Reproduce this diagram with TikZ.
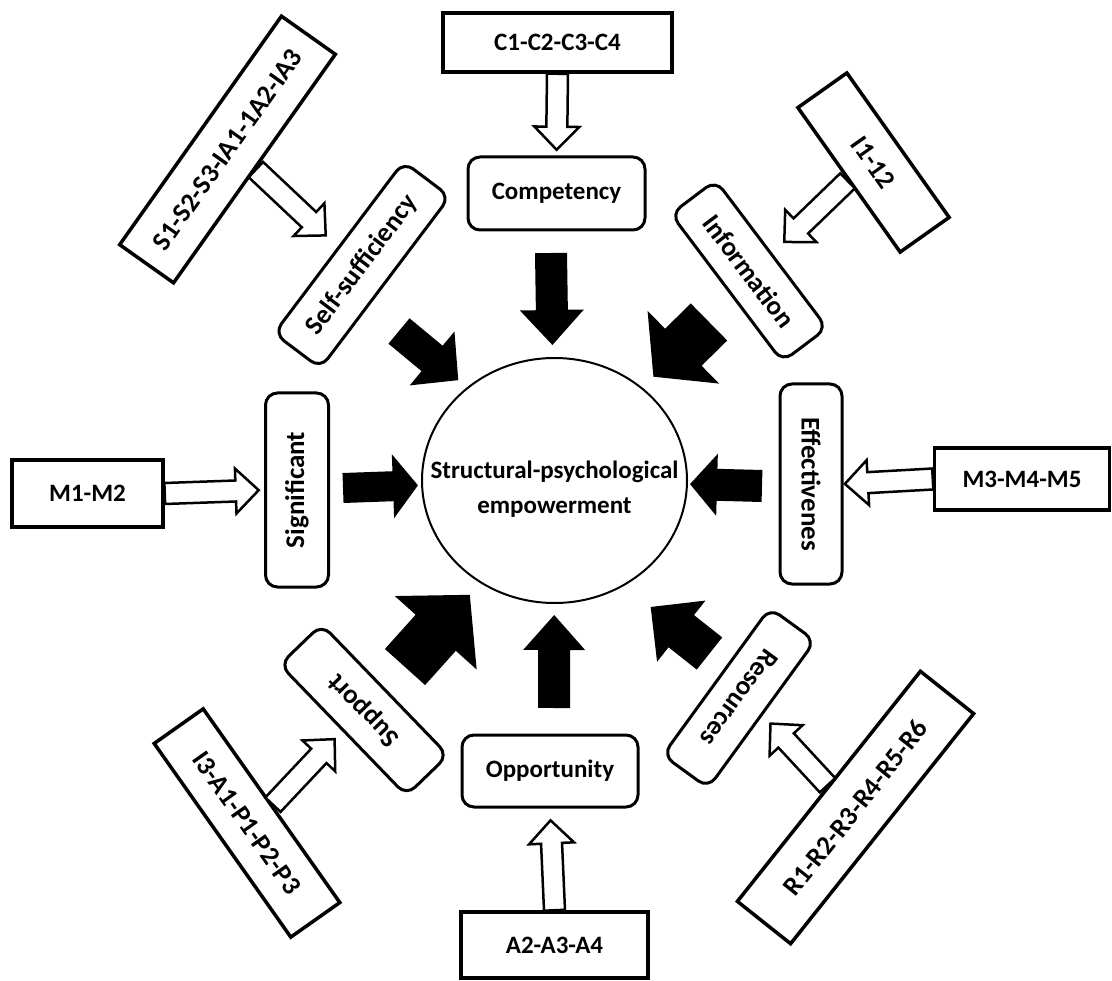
\documentclass[tikz,border=0pt]{standalone}
\usepackage{fontspec}
\setmainfont{Carlito}
\usetikzlibrary{calc,shapes.geometric}
\begin{document}
\begin{tikzpicture}[x=1pt,y=-1pt]
\tikzstyle{every node}=[font=\fontsize{25}{35}\selectfont\bfseries,inner sep=1pt]
\tikzstyle{dim}=[draw,line width=3pt,rounded corners=12pt]
\tikzstyle{item}=[draw,line width=3.5pt]
\tikzstyle{hollow}=[draw,fill=white,line width=2.5pt,line join=miter]
\useasboundingbox (0,0) rectangle (1112,981);
\path (554.5,480.5) node[draw,ellipse,line width=2pt,minimum width=265pt,minimum height=245pt] (emp) {};
\path (emp)+(0,8.5) node[align=center] (emptxt) {Structural-psychological\\empowerment};
\foreach \n/\x/\y/\r/\w/\h/\f/\lab in {comp/556.5/193.5/0/177/73/25/Competency, opp/550/771/0/176/72/25/Opportunity, sig/297/490/90/194/63/27/Significant, eff/811/484/-90/200/62/27/Effectivenes, self/362/265/53/215/58/27/Self-sufficiency, info/749/271/-53/185/56/27/Information, supp/364/710/134/182/58/27/Support, res/739/698/234/182/56/27/Resources}{
\path (\x,\y) node[dim,rotate=\r,minimum width=\w pt,minimum height=\h pt,font=\fontsize{\f}{30}\selectfont\bfseries] (\n) {\lab};}
\foreach \n/\x/\y/\r/\w/\h/\f/\lab in {c1/557.5/42.5/0/229/59/25/C1-C2-C3-C4, a2/554.5/945/0/187/66/25/A2-A3-A4, m1/87.5/493.5/0/151/67/25/M1-M2, m3/1022/479/0/175/62/25/M3-M4-M5, s1/227.5/149.5/54.7/280/66/27/S1-S2-S3-IA1-1A2-IA3, i1/873.5/162.5/-54.7/177/60/27/I1-12, i3/247/823/-54.8/237/60/27/I3-A1-P1-P2-P3, r1/855.5/807.5/51.5/294/68/27/R1-R2-R3-R4-R5-R6}{
\path (\x,\y) node[item,rotate=\r,minimum width=\w pt,minimum height=\h pt,font=\fontsize{\f}{30}\selectfont\bfseries] (\n) {\lab};}
\foreach \a/\b/\len in {c1.south/comp.north/76pt, a2.north/opp.south/90pt, m1.east/sig.north/94pt, m3.west/eff.north/88pt, s1.south/self.north/96pt, i1.south/info.north/88pt, i3.north/supp.north/90pt, r1.north/res.north/84pt}{
\path ($(\a)!\len!(\b)$) coordinate (tip) ($(tip)!23pt!(\a)$) coordinate (neck);
\filldraw[hollow] ($(\a)!10.5pt!90:(tip)$) -- ($(neck)!10.5pt!90:(tip)$) -- ($(neck)!22.5pt!90:(tip)$) -- (tip) -- ($(neck)!22.5pt!-90:(tip)$) -- ($(neck)!10.5pt!-90:(tip)$) -- ($(\a)!10.5pt!-90:(tip)$) -- cycle;}
\foreach \n/\x/\y/\len/\rot/\w/\h/\hl in {b1/551/253/92pt/0/16pt/32pt/35pt, b2/554/708/93pt/0/16pt/31pt/35pt, b3/343/488/75pt/0/15pt/32pt/25pt, b4/762/486/72pt/0/16pt/31pt/27pt, b5/399/331/77pt/4.2/16.5pt/35pt/34pt, b6/709/322/78pt/-1.2/26pt/51pt/42pt, b7/405/667/97pt/-3.2/27pt/55pt/51pt, b8/709.5/653.5/75pt/9.8/20.5pt/39pt/39pt}{
\path (\x,\y) coordinate (\n) ($(\n)!\len!\rot:(emp)$) coordinate (tip) ($(tip)!\hl!(\n)$) coordinate (neck);
\fill ($(\n)!\w!90:(tip)$) -- ($(neck)!\w!90:(tip)$) -- ($(neck)!\h!90:(tip)$) -- (tip) -- ($(neck)!\h!-90:(tip)$) -- ($(neck)!\w!-90:(tip)$) -- ($(\n)!\w!-90:(tip)$) -- cycle;}
\end{tikzpicture}
\end{document}
